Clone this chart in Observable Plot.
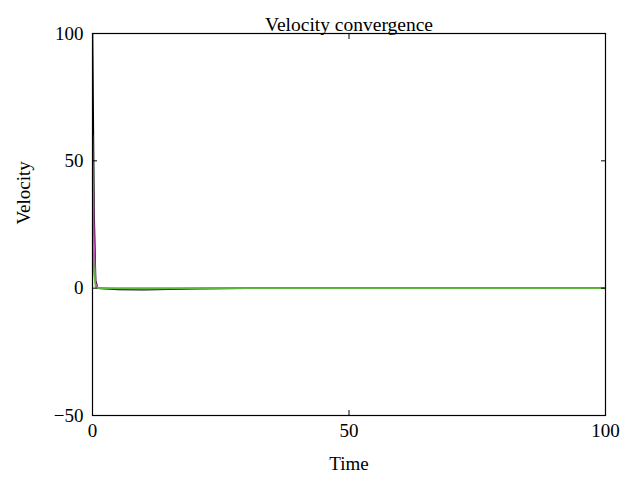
<!DOCTYPE html>
<html><head><meta charset="utf-8">
<script src="https://cdn.jsdelivr.net/npm/d3@7"></script>
<script src="https://cdn.jsdelivr.net/npm/@observablehq/plot@0.6"></script>
<style>body{margin:0;background:#fff}</style>
</head><body><div id="chart"></div>
<script>
const time = [0, 0.3, 0.6, 1, 5, 10, 15, 20, 30, 100];
const agentBlack = [100, 30, 3, 0, -0.5, -0.6, -0.4, -0.2, 0, 0];
const agentMagenta = [60, 18, 2, 0, -0.2, -0.3, -0.2, -0.1, 0, 0];
const agentGreen = [20, 6, 0.5, 0, 0, 0, 0, 0, 0, 0];
const xTicks = [0, 50, 100];
const yTicks = [-50, 0, 50, 100];
const series = [
  {name: "agent 1", values: agentBlack, color: "#000000"},
  {name: "agent 2", values: agentMagenta, color: "#c050b8"},
  {name: "agent 3", values: agentGreen, color: "#5cb83c"}
];
const rows = series.flatMap(s => time.map((t, i) => ({t, v: s.values[i], name: s.name})));
const font = "Liberation Serif";
const chart = Plot.plot({
  width: 635, height: 477,
  marginTop: 33, marginBottom: 62, marginLeft: 92, marginRight: 30,
  style: {fontFamily: font, fontSize: "19px", color: "#000", background: "#fff"},
  x: {domain: [0, 100]},
  y: {domain: [-50, 100]},
  color: {domain: series.map(s => s.name), range: series.map(s => s.color)},
  marks: [
    Plot.lineY(rows, {x: "t", y: "v", z: "name", stroke: "name", strokeWidth: 1.6, clip: true}),
    Plot.frame({stroke: "#000", strokeWidth: 1.2}),
    Plot.axisX(xTicks, {anchor: "bottom", tickSize: 0, tickPadding: 8, label: null, fontSize: 19}),
    Plot.axisX(xTicks, {anchor: "bottom", tickSize: 5, dy: -5, text: null, label: null}),
    Plot.axisX(xTicks, {anchor: "top", tickSize: 5, dy: 5, text: null, label: null}),
    Plot.axisY(yTicks, {anchor: "left", tickSize: 0, tickPadding: 9, label: null, fontSize: 19}),
    Plot.axisY(yTicks, {anchor: "left", tickSize: 5, dx: 5, text: null, label: null}),
    Plot.axisY(yTicks, {anchor: "right", tickSize: 5, dx: -5, text: null, label: null}),
    Plot.text(["Velocity convergence"], {frameAnchor: "top", dy: -16, fontSize: 19.5}),
    Plot.text(["Time"], {frameAnchor: "bottom", dy: 54, fontSize: 19}),
    Plot.text(["Velocity"], {frameAnchor: "left", dx: -69, rotate: -90, fontSize: 19})
  ]
});
document.getElementById("chart").appendChild(chart);
</script>
</body></html>
